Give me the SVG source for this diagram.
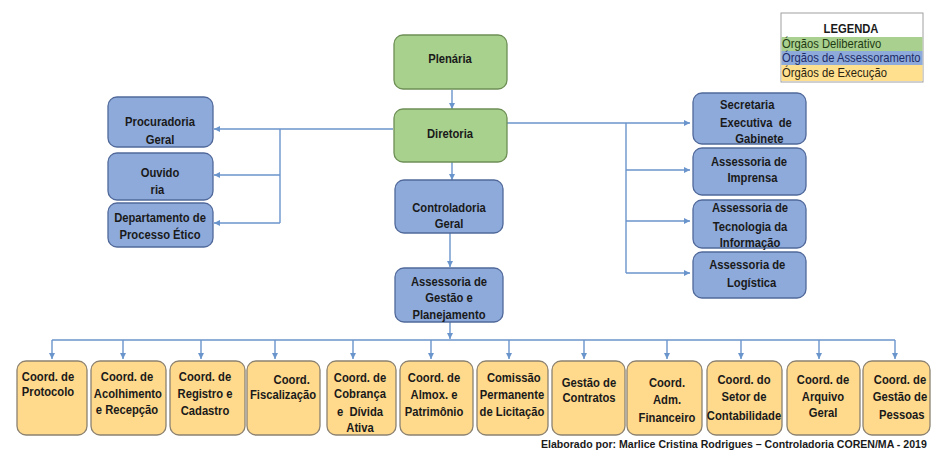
<svg xmlns="http://www.w3.org/2000/svg" width="932" height="459" viewBox="0 0 932 459">
<style>
.c{fill:none;stroke:#6a94cc;stroke-width:1.4}
.g{fill:#a9d18e;stroke:#6d8f55;stroke-width:1.3}
.b{fill:#8eaadb;stroke:#50699a;stroke-width:1.3}
.y{fill:#ffd98c;stroke:#8c8270;stroke-width:1.3}
.t{font-family:"Liberation Sans",Arial,sans-serif;font-weight:bold;font-size:13px;fill:#1a1a1a;text-anchor:middle}
.l{font-family:"Liberation Sans",Arial,sans-serif;font-size:13px}
</style>
<defs>
<marker id="a" viewBox="0 0 10 10" refX="10" refY="5" markerWidth="7" markerHeight="6" markerUnits="userSpaceOnUse" orient="auto">
<path d="M0,0 L10,5 L0,10 z" fill="#6a94cc"/>
</marker>
</defs>
<rect width="932" height="459" fill="#ffffff"/>

<g id="connectors" class="c">
<path d="M452,90 V109" marker-end="url(#a)"/>
<path d="M452,162 V180" marker-end="url(#a)"/>
<path d="M450,233 V267" marker-end="url(#a)"/>
<path d="M450,322 V339" marker-end="url(#a)"/>
<path d="M393,129 H214" marker-end="url(#a)"/>
<path d="M280,129 V223"/>
<path d="M280,175 H214" marker-end="url(#a)"/>
<path d="M280,223 H214" marker-end="url(#a)"/>
<path d="M507,123 H690" marker-end="url(#a)"/>
<path d="M626,123 V273"/>
<path d="M626,170 H690" marker-end="url(#a)"/>
<path d="M626,221 H690" marker-end="url(#a)"/>
<path d="M626,273 H690" marker-end="url(#a)"/>
<path d="M52,340 H895"/>
<path d="M52,340 V359" marker-end="url(#a)"/>
<path d="M123,340 V359" marker-end="url(#a)"/>
<path d="M201,340 V359" marker-end="url(#a)"/>
<path d="M275,340 V359" marker-end="url(#a)"/>
<path d="M353,340 V359" marker-end="url(#a)"/>
<path d="M431,340 V359" marker-end="url(#a)"/>
<path d="M509,340 V359" marker-end="url(#a)"/>
<path d="M584,340 V359" marker-end="url(#a)"/>
<path d="M667,340 V359" marker-end="url(#a)"/>
<path d="M741,340 V359" marker-end="url(#a)"/>
<path d="M819,340 V359" marker-end="url(#a)"/>
<path d="M895,340 V359" marker-end="url(#a)"/>
</g>

<g id="plenaria"><rect class="g" x="394" y="35" width="113" height="54" rx="9"/>
<text class="t" transform="translate(450 0) scale(0.865 1)"><tspan x="0" y="63">Plenária</tspan></text></g>
<g id="diretoria"><rect class="g" x="394" y="109" width="113" height="53" rx="9"/>
<text class="t" transform="translate(450 0) scale(0.865 1)"><tspan x="0" y="138">Diretoria</tspan></text></g>
<g id="controladoria"><rect class="b" x="395" y="180" width="108" height="53" rx="9"/>
<text class="t" transform="translate(449 0) scale(0.865 1)"><tspan x="0" y="212">Controladoria</tspan><tspan x="0" y="228">Geral</tspan></text></g>
<g id="assessoria-gestao"><rect class="b" x="395" y="268" width="108" height="54" rx="9"/>
<text class="t" transform="translate(449 0) scale(0.865 1)"><tspan x="0" y="286">Assessoria de</tspan><tspan x="0" y="302">Gestão e</tspan><tspan x="0" y="319">Planejamento</tspan></text></g>

<g id="procuradoria"><rect class="b" x="108" y="97" width="105" height="50" rx="9"/>
<text class="t" transform="translate(160 0) scale(0.865 1)"><tspan x="0" y="126">Procuradoria</tspan><tspan x="0" y="144">Geral</tspan></text></g>
<g id="ouvidoria"><rect class="b" x="108" y="153" width="105" height="47" rx="9"/>
<text class="t" transform="translate(160 0) scale(0.865 1)"><tspan x="0" y="177">Ouvido</tspan><tspan x="-3" y="194">ria</tspan></text></g>
<g id="processo-etico"><rect class="b" x="108" y="203" width="105" height="44" rx="9"/>
<text class="t" transform="translate(160 0) scale(0.865 1)"><tspan x="0" y="222">Departamento de</tspan><tspan x="0" y="239">Processo Ético</tspan></text></g>

<g id="secretaria"><rect class="b" x="693" y="93" width="113" height="51" rx="9"/>
<text class="t" transform="translate(749 0) scale(0.865 1)" xml:space="preserve"><tspan x="-2" y="109">Secretaria</tspan><tspan x="8" y="127">Executiva  de</tspan><tspan x="12" y="143">Gabinete</tspan></text></g>
<g id="imprensa"><rect class="b" x="693" y="148" width="113" height="47" rx="9"/>
<text class="t" transform="translate(749 0) scale(0.865 1)"><tspan x="0" y="166">Assessoria de</tspan><tspan x="4" y="182">Imprensa</tspan></text></g>
<g id="tecnologia"><rect class="b" x="693" y="200" width="113" height="48" rx="9"/>
<text class="t" transform="translate(750 0) scale(0.865 1)"><tspan x="0" y="212">Assessoria de</tspan><tspan x="0" y="231">Tecnologia da</tspan><tspan x="0" y="247">Informação</tspan></text></g>
<g id="logistica"><rect class="b" x="693" y="252" width="113" height="46" rx="9"/>
<text class="t" transform="translate(749 0) scale(0.865 1)"><tspan x="-2" y="269">Assessoria de</tspan><tspan x="3" y="287">Logística</tspan></text></g>

<g id="protocolo"><rect class="y" x="17" y="361" width="70" height="74" rx="9"/>
<text class="t" transform="translate(48 0) scale(0.865 1)"><tspan x="0" y="381">Coord. de</tspan><tspan x="0" y="396">Protocolo</tspan></text></g>
<g id="acolhimento"><rect class="y" x="91" y="361" width="75" height="74" rx="9"/>
<text class="t" transform="translate(127 0) scale(0.865 1)"><tspan x="0" y="381">Coord. de</tspan><tspan x="1" y="398">Acolhimento</tspan><tspan x="0" y="414">e Recepção</tspan></text></g>
<g id="registro"><rect class="y" x="170" y="361" width="75" height="74" rx="9"/>
<text class="t" transform="translate(205 0) scale(0.865 1)"><tspan x="0" y="381">Coord. de</tspan><tspan x="0" y="398">Registro e</tspan><tspan x="0" y="415">Cadastro</tspan></text></g>
<g id="fiscalizacao"><rect class="y" x="247" y="361" width="73" height="74" rx="9"/>
<text class="t" transform="translate(283 0) scale(0.865 1)"><tspan x="10" y="384">Coord.</tspan><tspan x="0" y="399">Fiscalização</tspan></text></g>
<g id="cobranca"><rect class="y" x="327" y="361" width="69" height="74" rx="9"/>
<text class="t" transform="translate(360 0) scale(0.865 1)" xml:space="preserve"><tspan x="0" y="382">Coord. de</tspan><tspan x="0" y="398">Cobrança</tspan><tspan x="0" y="416">e  Dívida</tspan><tspan x="0" y="432">Ativa</tspan></text></g>
<g id="almox"><rect class="y" x="400" y="361" width="73" height="74" rx="9"/>
<text class="t" transform="translate(434 0) scale(0.865 1)"><tspan x="0" y="382">Coord. de</tspan><tspan x="0" y="399">Almox. e</tspan><tspan x="0" y="416">Patrimônio</tspan></text></g>
<g id="licitacao"><rect class="y" x="477" y="361" width="71" height="74" rx="9"/>
<text class="t" transform="translate(512 0) scale(0.865 1)"><tspan x="2" y="382">Comissão</tspan><tspan x="0" y="399">Permanente</tspan><tspan x="0" y="416">de Licitação</tspan></text></g>
<g id="contratos"><rect class="y" x="552" y="361" width="73" height="74" rx="9"/>
<text class="t" transform="translate(589 0) scale(0.865 1)"><tspan x="0" y="387">Gestão de</tspan><tspan x="0" y="402">Contratos</tspan></text></g>
<g id="financeiro"><rect class="y" x="627" y="361" width="75" height="74" rx="9"/>
<text class="t" transform="translate(667 0) scale(0.865 1)"><tspan x="0" y="387">Coord.</tspan><tspan x="0" y="404">Adm.</tspan><tspan x="0" y="422">Financeiro</tspan></text></g>
<g id="contabilidade"><rect class="y" x="707" y="361" width="75" height="74" rx="9"/>
<text class="t" transform="translate(744 0) scale(0.865 1)"><tspan x="0" y="384">Coord. do</tspan><tspan x="0" y="401">Setor de</tspan><tspan x="0" y="420">Contabilidade</tspan></text></g>
<g id="arquivo"><rect class="y" x="787" y="361" width="73" height="74" rx="9"/>
<text class="t" transform="translate(823 0) scale(0.865 1)"><tspan x="0" y="384">Coord. de</tspan><tspan x="0" y="401">Arquivo</tspan><tspan x="0" y="417">Geral</tspan></text></g>
<g id="pessoas"><rect class="y" x="863" y="361" width="67" height="74" rx="9"/>
<text class="t" transform="translate(900 0) scale(0.865 1)"><tspan x="0" y="384">Coord. de</tspan><tspan x="0" y="401">Gestão de</tspan><tspan x="2" y="419">Pessoas</tspan></text></g>

<g id="legenda">
<rect x="781" y="13" width="142" height="69" fill="#ffffff" stroke="#a0a0a0" stroke-width="1"/>
<rect x="781.5" y="37" width="141" height="14" fill="#a9d08e"/>
<rect x="781.5" y="51" width="141" height="14" fill="#8eaadb"/>
<rect x="781.5" y="65" width="141" height="16" fill="#ffe08f"/>
<text class="t" transform="translate(851 0) scale(0.865 1)"><tspan x="0" y="33">LEGENDA</tspan></text>
<text class="l" transform="translate(782 0) scale(0.865 1)"><tspan x="0" y="48" fill="#1f3b14">Órgãos Deliberativo</tspan><tspan x="0" y="62" fill="#1c2a66">Órgãos de Assessoramento</tspan><tspan x="0" y="77" fill="#2a2410">Órgãos de Execução</tspan></text>
</g>

<text transform="translate(541 448) scale(0.92 1)" font-family="'Liberation Sans',Arial,sans-serif" font-weight="bold" font-size="11.5" fill="#1a1a1a">Elaborado por: Marlice Cristina Rodrigues – Controladoria COREN/MA - 2019</text>
</svg>
